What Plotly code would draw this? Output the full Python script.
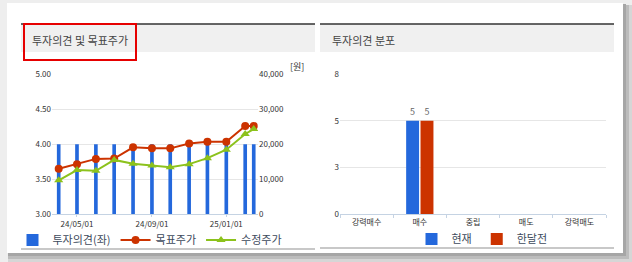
import plotly.graph_objects as go

W, H = 632, 262

# ---- data ----
dates = ["2024-04-01", "2024-05-01", "2024-06-01", "2024-07-01", "2024-08-01", "2024-09-01",
         "2024-10-01", "2024-11-01", "2024-12-01", "2025-01-01", "2025-02-01", "2025-02-15"]
opinion = [4.0] * 12
target_price = [13000, 14300, 15800, 15900, 19100, 18800, 18800, 20200, 20700, 20700, 25200, 25200]
adjusted_price = [9700, 12600, 12400, 15500, 14400, 13900, 13400, 14300, 16000, 18400, 22900, 24300]

x_tickvals = ["2024-05-01", "2024-09-01", "2025-01-01"]
x_ticktext = ["24/05/01", "24/09/01", "25/01/01"]

dist_categories = ["강력매수", "매수", "중립", "매도", "강력매도"]
dist_current = [0, 5, 0, 0, 0]
dist_month_ago = [0, 5, 0, 0, 0]

BLUE = "#2468dc"
RED = "#cc3300"
GREEN = "#8cc21c"
FONT = "Noto Sans CJK KR"


def px(x):
    return x / W


def py(y):
    return 1 - y / H


fig = go.Figure()

# left chart
fig.add_trace(go.Bar(x=dates, y=opinion, name="투자의견(좌)", marker=dict(color=BLUE, line=dict(width=0)),
                     width=6 * 86400000, xaxis="x", yaxis="y", legend="legend", hoverinfo="skip"))
fig.add_trace(go.Scatter(x=dates, y=target_price, name="목표주가", mode="lines+markers",
                         line=dict(color=RED, width=2), marker=dict(color=RED, size=8, symbol="circle"),
                         xaxis="x", yaxis="y2", legend="legend"))
fig.add_trace(go.Scatter(x=dates, y=adjusted_price, name="수정주가", mode="lines+markers",
                         line=dict(color=GREEN, width=2), marker=dict(color=GREEN, size=8, symbol="triangle-up"),
                         xaxis="x", yaxis="y2", legend="legend"))

# right chart
fig.add_trace(go.Bar(x=dist_categories, y=dist_current, name="현재", marker=dict(color=BLUE, line=dict(width=0)),
                     text=[str(v) if v else "" for v in dist_current], textposition="outside",
                     textfont=dict(size=9, color="#666"), cliponaxis=False,
                     xaxis="x3", yaxis="y3", legend="legend2"))
fig.add_trace(go.Bar(x=dist_categories, y=dist_month_ago, name="한달전", marker=dict(color=RED, line=dict(width=0)),
                     text=[str(v) if v else "" for v in dist_month_ago], textposition="outside",
                     textfont=dict(size=9, color="#666"), cliponaxis=False,
                     xaxis="x3", yaxis="y3", legend="legend2"))

ydom = [py(214.3), py(74)]
tickfont = dict(size=8, color="#333", family=FONT)
axisline = "#c5d3e3"
grid = "#e6e6e6"

shapes = []
# background / shadow
for (x0, y0, x1, y1, c) in [(0, 0, 632, 262, "#eeeeee"), (8, 5, 632, 262, "#d6d6d6"),
                            (8, 5, 629, 259, "#bcbcbc"), (8, 4, 626, 256, "#a6a6a6"),
                            (7, 3, 623, 253, "#ffffff")]:
    shapes.append(dict(type="rect", xref="paper", yref="paper", x0=px(x0), x1=px(x1), y0=py(y1), y1=py(y0),
                       fillcolor=c, line=dict(width=0), layer="below"))
# headers
for (x0, x1) in [(21, 315), (320, 614)]:
    shapes.append(dict(type="rect", xref="paper", yref="paper", x0=px(x0), x1=px(x1), y0=py(52), y1=py(24),
                       fillcolor="#f0f0f0", line=dict(width=0), layer="below"))
    shapes.append(dict(type="line", xref="paper", yref="paper", x0=px(x0), x1=px(x1), y0=py(24), y1=py(24),
                       line=dict(color="#333", width=1.5)))
# bottom lines
shapes.append(dict(type="line", xref="paper", yref="paper", x0=px(21), x1=px(315), y0=py(249), y1=py(249),
                   line=dict(color="#c8c8c8", width=2)))
shapes.append(dict(type="line", xref="paper", yref="paper", x0=px(320), x1=px(614), y0=py(248), y1=py(248),
                   line=dict(color="#c8c8c8", width=2)))
# red highlight box
shapes.append(dict(type="rect", xref="paper", yref="paper", x0=px(24), x1=px(136), y0=py(60), y1=py(24),
                   line=dict(color="#e60000", width=2), fillcolor="rgba(0,0,0,0)"))

annotations = [
    dict(text="투자의견 및 목표주가", x=px(30), y=py(40), xref="paper", yref="paper", xanchor="left",
         yanchor="middle", showarrow=False, font=dict(size=11, color="#444", family=FONT)),
    dict(text="투자의견 분포", x=px(330), y=py(40), xref="paper", yref="paper", xanchor="left",
         yanchor="middle", showarrow=False, font=dict(size=11, color="#444", family=FONT)),
    dict(text="[원]", x=px(297), y=py(66), xref="paper", yref="paper", xanchor="center",
         yanchor="middle", showarrow=False, font=dict(size=9, color="#333", family=FONT)),
]

fig.update_layout(
    width=W, height=H, margin=dict(l=0, r=0, t=0, b=0, autoexpand=False),
    paper_bgcolor="#ffffff", plot_bgcolor="rgba(0,0,0,0)",
    font=dict(family=FONT, color="#333"),
    barmode="group", bargap=0.46, bargroupgap=0.1,
    xaxis=dict(domain=[px(52), px(258)], type="date", range=["2024-03-21", "2025-02-22"],
               tickvals=x_tickvals, ticktext=x_ticktext, tickfont=tickfont,
               showgrid=False, showline=True, linecolor=axisline, ticks="outside", ticklen=2,
               tickcolor=axisline, anchor="y", zeroline=False, automargin=False),
    yaxis=dict(domain=ydom, range=[3, 5], tickvals=[3, 3.5, 4, 4.5, 5], tickformat=".2f",
               tickfont=tickfont, gridcolor=grid, zeroline=False, anchor="x", automargin=False),
    yaxis2=dict(domain=ydom, range=[0, 40000], tickvals=[0, 10000, 20000, 30000, 40000], tickformat=",d",
                tickfont=tickfont, overlaying="y", side="right", showgrid=False, zeroline=False, anchor="x",
                automargin=False),
    xaxis3=dict(domain=[px(340), px(606)], type="category", tickfont=tickfont, showgrid=False,
                showline=True, linecolor=axisline, ticks="outside", ticklen=3, tickcolor=axisline,
                tickson="boundaries", anchor="y3", automargin=False),
    yaxis3=dict(domain=ydom, range=[0, 7.5], tickvals=[0, 2.5, 5, 7.5], ticktext=["0", "3", "5", "8"],
                tickfont=tickfont, gridcolor=grid, zeroline=False, anchor="x3", automargin=False),
    legend=dict(orientation="h", x=px(150), xanchor="center", y=py(240), yanchor="middle",
                font=dict(size=11, color="#3d4a5c", family=FONT), bgcolor="rgba(0,0,0,0)",
                itemwidth=30, tracegroupgap=0),
    legend2=dict(orientation="h", x=px(482), xanchor="center", y=py(239), yanchor="middle",
                 font=dict(size=11, color="#3d4a5c", family=FONT), bgcolor="rgba(0,0,0,0)",
                 itemwidth=30, tracegroupgap=0),
    shapes=shapes, annotations=annotations,
)

fig.write_html("out.html")
